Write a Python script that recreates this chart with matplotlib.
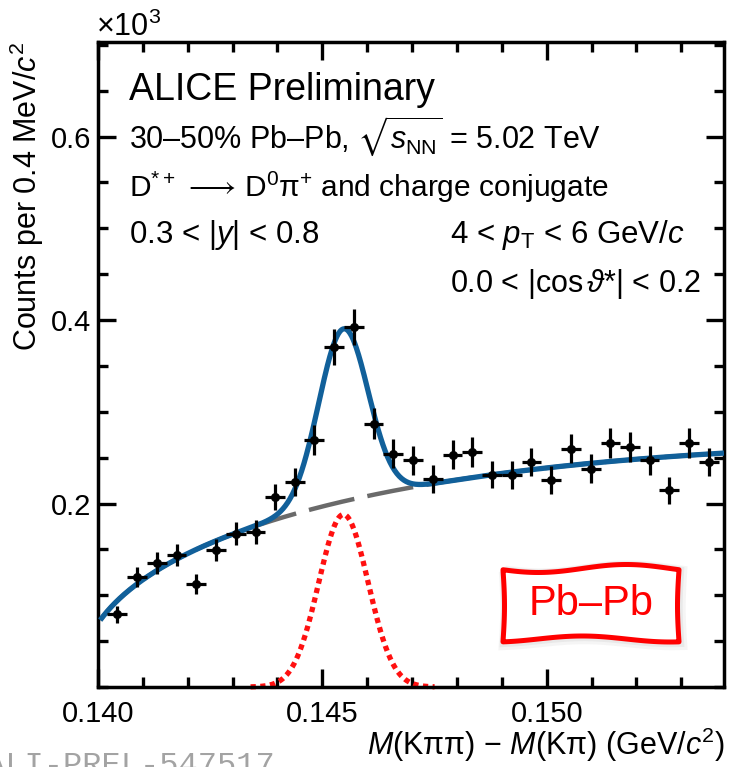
import numpy as np
import matplotlib
matplotlib.use("Agg")
import matplotlib.pyplot as plt
from matplotlib.path import Path
from matplotlib.patches import PathPatch
from matplotlib.ticker import MultipleLocator, FixedLocator

plt.rcParams["font.family"] = ["Liberation Sans", "DejaVu Sans"]
plt.rcParams["mathtext.fontset"] = "custom"
plt.rcParams["mathtext.rm"] = "Liberation Sans"
plt.rcParams["mathtext.it"] = "Liberation Sans:italic"
plt.rcParams["mathtext.bf"] = "Liberation Sans:bold"
plt.rcParams["mathtext.fallback"] = "stixsans"

# --- data: invariant-mass difference histogram (counts x 10^3) ---
mass_diff = [0.14043, 0.14087, 0.14131, 0.14175, 0.14219, 0.14263, 0.14307,
             0.14351, 0.14395, 0.14439, 0.14482, 0.14526, 0.14570, 0.14614,
             0.14658, 0.14702, 0.14746, 0.14790, 0.14834, 0.14878, 0.14922,
             0.14966, 0.15010, 0.15054, 0.15098, 0.15142, 0.15186, 0.15229,
             0.15273, 0.15317, 0.15361]
counts = [0.0792, 0.1201, 0.1353, 0.1437, 0.1121, 0.1492, 0.1673,
          0.1685, 0.2072, 0.2235, 0.2689, 0.3705, 0.3923, 0.2871,
          0.2544, 0.2471, 0.2266, 0.2533, 0.2562, 0.2316, 0.2308,
          0.2453, 0.2254, 0.2599, 0.2381, 0.2664, 0.2616, 0.2471,
          0.2145, 0.2664, 0.2453]
count_err = [0.0089, 0.0110, 0.0116, 0.0120, 0.0106, 0.0122, 0.0129,
             0.0130, 0.0144, 0.0150, 0.0164, 0.0193, 0.0198, 0.0169,
             0.0159, 0.0157, 0.0151, 0.0159, 0.0160, 0.0152, 0.0152,
             0.0157, 0.0150, 0.0161, 0.0154, 0.0163, 0.0162, 0.0157,
             0.0147, 0.0163, 0.0157]
bin_half_width = 0.00022

# --- fit parameters ---
m_pion = 0.13957          # threshold
bkg_norm = 2.293          # background: A * dm^b * exp(c*dm)
bkg_power = 0.45
bkg_slope = -20.0
sig_amp = 0.188           # Gaussian signal
sig_mean = 0.14547
sig_sigma = 0.00055
sig_lo, sig_hi = 0.1434, 0.1475

x_min, x_max = 0.140, 0.15395
y_min, y_max = 0.0, 0.703
x_ticks = [0.140, 0.145, 0.150]
x_tick_labels = ["0.140", "0.145", "0.150"]
y_ticks = [0.2, 0.4, 0.6]
y_tick_labels = ["0.2", "0.4", "0.6"]


def background(x):
    dm = x - m_pion
    return bkg_norm * dm ** bkg_power * np.exp(bkg_slope * dm)


def signal(x):
    return sig_amp * np.exp(-0.5 * ((x - sig_mean) / sig_sigma) ** 2)


W, H = 730, 767
fig = plt.figure(figsize=(W / 100, H / 100), dpi=100)
L, R, T, B = 98, 724, 42, 687
ax = fig.add_axes([L / W, 1 - B / H, (R - L) / W, (B - T) / H])
ax.set_xlim(x_min, x_max)
ax.set_ylim(y_min, y_max)

blue = "#11609a"
xs = np.linspace(0.14005, x_max, 800)
ax.plot(xs, background(xs), color="#6a6a6a", lw=3.2,
        linestyle=(0, (10.5, 3.0)), zorder=2)
xsig = np.linspace(sig_lo, sig_hi, 300)
ax.plot(xsig, signal(xsig), color="#ff1010", lw=3.8,
        linestyle=(0, (1.0, 0.85)), zorder=2, clip_on=False)
ax.plot(xs, background(xs) + signal(xs), color=blue, lw=3.8, zorder=3,
        solid_capstyle="butt")

ax.errorbar(mass_diff, counts, yerr=count_err, xerr=bin_half_width,
            fmt="o", color="black", ms=5.5, elinewidth=2.3, capsize=0,
            zorder=4)

# axes styling
for sp in ax.spines.values():
    sp.set_linewidth(2.5)
ax.xaxis.set_major_locator(FixedLocator(x_ticks))
ax.set_xticklabels(x_tick_labels)
ax.xaxis.set_minor_locator(MultipleLocator(0.001))
ax.yaxis.set_major_locator(FixedLocator(y_ticks))
ax.set_yticklabels(y_tick_labels)
ax.yaxis.set_minor_locator(MultipleLocator(0.05))
ax.tick_params(which="both", direction="in", top=True, right=True,
               labelsize=21, width=2.4)
ax.tick_params(which="major", length=13)
ax.tick_params(which="minor", length=7)
ax.tick_params(axis="x", which="major", pad=9)
ax.tick_params(axis="y", which="major", pad=5)


def px(x, y):
    return x / W, 1 - y / H


fig.text(*px(96, 36), r"$\times$10$^{3}$", fontsize=22, va="baseline")
fig.text(*px(27, 42), r"Counts per 0.4 MeV/$c^{2}$", fontsize=22,
         rotation=90, ha="center", va="top")
fig.text(*px(725, 745), r"$M$(Kππ) $-$ $M$(Kπ) (GeV/$c^{2}$)",
         fontsize=22, ha="right", va="center")

fig.text(*px(129, 100), "ALICE Preliminary", fontsize=27, va="baseline")
fig.text(*px(129, 148), r"30–50% Pb–Pb, $\sqrt{s_{\rm NN}}$ = 5.02 TeV",
         fontsize=22, va="baseline")
fig.text(*px(129, 197),
         r"D$^{*+}\,\longrightarrow\,$D$^{0}$π$^{+}$ and charge conjugate",
         fontsize=21.5, va="baseline")
fig.text(*px(129, 243), r"0.3 < |$y$| < 0.8", fontsize=22.5, va="baseline")
fig.text(*px(450, 243), r"4 < $p_{\rm T}$ < 6 GeV/$c$", fontsize=22.5,
         va="baseline")
fig.text(*px(450, 292), r"0.0 < |cos$\,\vartheta$*| < 0.2", fontsize=22,
         va="baseline")

# preliminary label tag at the bottom
fig.text(-14 / W, 1 - 774 / H, "ALI-PREL-547517", fontsize=23,
         family="Liberation Mono", color="#a3a3a3", va="baseline")

# wavy "Pb–Pb" tag
t = np.linspace(0, 1, 60)
bx0, bx1 = 503, 679
top_y = 568.5 + 4.0 * np.sin(2 * np.pi * (t + 0.05))
bot_y = 639.0 + 3.0 * np.sin(2 * np.pi * (t + 0.30))
bxs = bx0 + (bx1 - bx0) * t
s = np.linspace(0, 1, 20)
right_x = bx1 - 1.5 * np.sin(np.pi * s)
left_x = bx0 + 1.5 * np.sin(np.pi * s)
verts = (list(zip(bxs, top_y))
         + list(zip(right_x, top_y[-1] + (bot_y[-1] - top_y[-1]) * s))
         + list(zip(bxs[::-1], bot_y[::-1]))
         + list(zip(left_x, bot_y[0] + (top_y[0] - bot_y[0]) * s)))
verts_fig = [((vx) / W, 1 - vy / H) for vx, vy in verts]
codes = [Path.MOVETO] + [Path.LINETO] * (len(verts_fig) - 1)
for off, a, lw in [(2.0, 0.05, 9), (1.0, 0.07, 6)]:
    shadow = [(vx + off / W, vy - off / H) for vx, vy in verts_fig]
    fig.add_artist(PathPatch(Path(shadow, codes), fill=False,
                             edgecolor=(0.3, 0.3, 0.3, a), lw=lw,
                             transform=fig.transFigure, zorder=5))
box = PathPatch(Path(verts_fig + [verts_fig[0]], codes + [Path.CLOSEPOLY]),
                facecolor="white", edgecolor="#ff0000", lw=3.6,
                joinstyle="round", transform=fig.transFigure, zorder=6)
fig.add_artist(box)
fig.text(*px(591, 604), "Pb–Pb", fontsize=30, color="#ff0000",
         ha="center", va="center", zorder=7)

fig.savefig("out.png", dpi=100)
